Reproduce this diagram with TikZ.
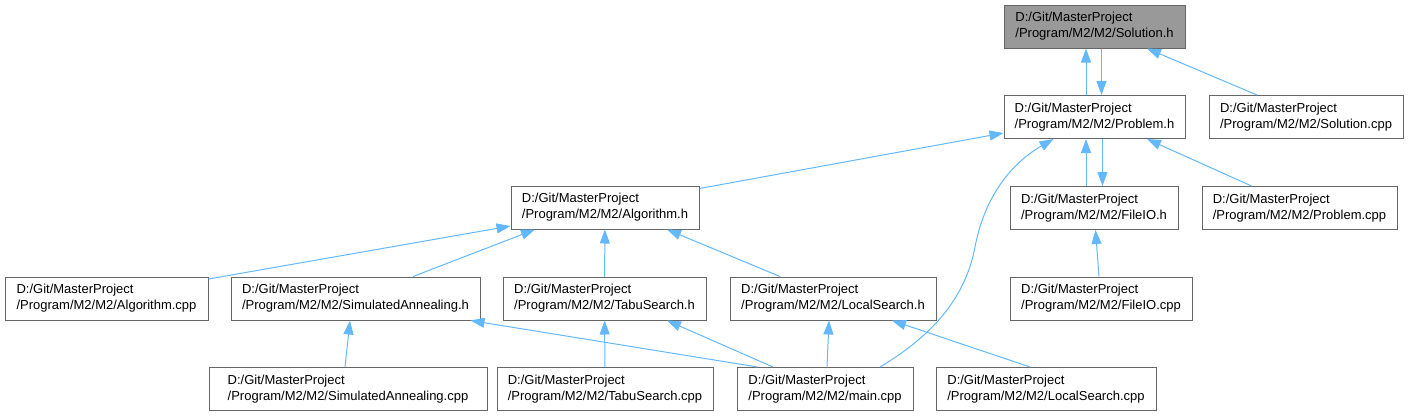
\documentclass[tikz,border=0pt]{standalone}
\usepackage{fontspec}
\setmainfont{Liberation Sans}
\usetikzlibrary{arrows.meta}
\definecolor{depEdge}{HTML}{63B8FF}
\definecolor{depBorder}{HTML}{666666}
\definecolor{depRoot}{HTML}{999999}
\tikzset{
  every node/.style={font=\fontsize{13}{16}\selectfont, text=black},
  file/.style={
    draw=depBorder,
    line width=1pt,
    fill=white,
    align=left,
    inner sep=0pt,
    minimum height=43pt
  },
  rootfile/.style={
    file,
    fill=depRoot
  },
  dep/.style={
    -{Triangle[length=14pt,width=10pt]},
    line width=1pt,
    draw=depEdge
  }
}

\begin{document}
\begin{tikzpicture}[x=1pt, y=-1pt]
  \useasboundingbox (0,0) rectangle (1409,416);

  % top rows
  \node[rootfile, minimum width=181pt] (solutionh) at (1094.5,26.5)
    {D:/Git/MasterProject\\/Program/M2/M2/Solution.h};
  \node[file, minimum width=181pt] (problemh) at (1094.5,117)
    {D:/Git/MasterProject\\/Program/M2/M2/Problem.h};
  \node[file, minimum width=194pt] (solutioncpp) at (1306,117)
    {D:/Git/MasterProject\\/Program/M2/M2/Solution.cpp};
  \node[file, minimum width=188pt] (algorithmh) at (605,207.5)
    {D:/Git/MasterProject\\/Program/M2/M2/Algorithm.h};
  \node[file, minimum width=168pt] (fileioh) at (1094,208)
    {D:/Git/MasterProject\\/Program/M2/M2/FileIO.h};
  \node[file, minimum width=195pt] (problemcpp) at (1299.5,208)
    {D:/Git/MasterProject\\/Program/M2/M2/Problem.cpp};

  % third row
  \node[file, minimum width=203pt] (algorithmcpp) at (106.5,298.5)
    {D:/Git/MasterProject\\/Program/M2/M2/Algorithm.cpp};
  \node[file, minimum width=249pt] (simannh) at (355.5,298.5)
    {D:/Git/MasterProject\\/Program/M2/M2/SimulatedAnnealing.h};
  \node[file, minimum width=203pt] (tabuh) at (604.5,298.5)
    {D:/Git/MasterProject\\/Program/M2/M2/TabuSearch.h};
  \node[file, minimum width=206pt] (localh) at (833,298.5)
    {D:/Git/MasterProject\\/Program/M2/M2/LocalSearch.h};
  \node[file, minimum width=182pt] (fileiocpp) at (1101,298.5)
    {D:/Git/MasterProject\\/Program/M2/M2/FileIO.cpp};

  % bottom row
  \node[file, minimum width=278pt] (simanncpp) at (348,389)
    {D:/Git/MasterProject\\/Program/M2/M2/SimulatedAnnealing.cpp};
  \node[file, minimum width=216pt] (tabucpp) at (605,389)
    {D:/Git/MasterProject\\/Program/M2/M2/TabuSearch.cpp};
  \node[file, minimum width=176pt] (maincpp) at (825,389)
    {D:/Git/MasterProject\\/Program/M2/M2/main.cpp};
  \node[file, minimum width=220pt] (localcpp) at (1046,389)
    {D:/Git/MasterProject\\/Program/M2/M2/LocalSearch.cpp};

  % include edges
  \draw[dep] ([xshift=-8.5]problemh.north) -- ([xshift=-8.5]solutionh.south);
  \draw[dep] ([xshift=7]solutionh.south) -- ([xshift=7]problemh.north);
  \draw[dep] ([xshift=-49]solutioncpp.north) -- ([xshift=52.5]solutionh.south);
  \draw[dep] ([yshift=19]algorithmh.east) -- ([yshift=-16]problemh.west);
  \draw[dep] ([xshift=55]maincpp.north) .. controls (930,337) and (965,300) .. (975,247)
    .. controls (985,195) and (1012,163) .. ([xshift=-41]problemh.south);
  \draw[dep] ([xshift=-8]fileioh.north) -- ([xshift=-8.5]problemh.south);
  \draw[dep] ([xshift=8]problemh.south) -- ([xshift=8.5]fileioh.north);
  \draw[dep] ([xshift=-48]problemcpp.north) -- ([xshift=52.5]problemh.south);
  \draw[dep] ([xshift=-2]fileiocpp.north) -- ([xshift=1.5]fileioh.south);
  \draw[dep] ([yshift=19.5]algorithmcpp.east) -- ([yshift=-18.5]algorithmh.west);
  \draw[dep] ([xshift=57.5]simannh.north) -- ([xshift=-70]algorithmh.south);
  \draw[dep] (tabuh) -- (algorithmh);
  \draw[dep] ([xshift=-53]localh.north) -- ([xshift=62]algorithmh.south);
  \draw[dep] ([xshift=-3]simanncpp.north) -- ([xshift=-5.5]simannh.south);
  \draw[dep] ([xshift=21]maincpp.north west) -- ([xshift=-10]simannh.south east);
  \draw[dep] (tabucpp) -- (tabuh);
  \draw[dep] ([xshift=-52]maincpp.north) -- ([xshift=62.5]tabuh.south);
  \draw[dep] ([xshift=2]maincpp.north) -- ([xshift=-4]localh.south);
  \draw[dep] ([xshift=-16]localcpp.north) -- ([xshift=59]localh.south);
\end{tikzpicture}
\end{document}
